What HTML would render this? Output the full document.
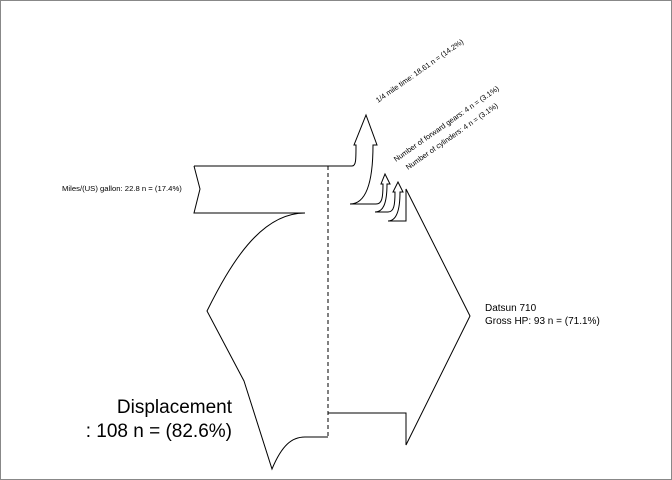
<!DOCTYPE html>
<html><head><meta charset="utf-8"><style>
body{margin:0;background:#fff}
svg{display:block}
text{font-family:"Liberation Sans",sans-serif;fill:#000}
</style></head><body>
<svg width="672" height="480" viewBox="0 0 672 480">
<script>
const nodeNames=["Miles/(US) gallon","Displacement","Gross HP","1/4 mile time","Number of forward gears","Number of cylinders"];
const nodeValues=["22.8","108","93","18.61","4","4"];
const nodePercents=[17.4,82.6,71.1,14.2,3.1,3.1];
</script>
<rect x="0.5" y="0.5" width="671" height="479" fill="#fff" stroke="#888"/>
<g fill="none" stroke="#000" stroke-width="1">
<path d="M194,166 L352,166 C356,166 356,160 356,145 L354,145 L366,115 L377,145 L373,145 C373,185 365,204 350,204"/>
<path d="M194,166 L200,189 L194,213 L305,213"/>
<path d="M305,213 C260,213 230,265 207,311 L244,381 L272,469 C282,445 292,437 305,437 L328,437"/>
<path d="M350,204 L376,204 C382,204 383,198 383,184 L381,184 L385,174 L390,184 L387,184 C387,204 383,212 375,212"/>
<path d="M375,212 L388,212 C394,212 395,205 395,192 L393,192 L398,182 L403,192 L400,192 C400,212 396,221 388,221 L406,221 L406,189 L470,316 L406,445 L406,413 L328,413"/>
<line x1="328" y1="166" x2="328" y2="437" stroke-dasharray="4,3"/>
</g>
<text x="62" y="191" font-size="7.7">Miles/(US) gallon: 22.8 n = (17.4%)</text>
<text x="232" y="413" font-size="19" text-anchor="end">Displacement</text>
<text x="232" y="437" font-size="19" text-anchor="end">: 108 n = (82.6%)</text>
<text x="485" y="311" font-size="10">Datsun 710</text>
<text x="485" y="324" font-size="10">Gross HP: 93 n = (71.1%)</text>
<text transform="translate(378,103) rotate(-35)" font-size="7.4">1/4 mile time: 18.61 n = (14.2%)</text>
<text transform="translate(396,162) rotate(-35)" font-size="7.4">Number of forward gears: 4 n = (3.1%)</text>
<text transform="translate(408,170) rotate(-35)" font-size="7.4">Number of cylinders: 4 n = (3.1%)</text>
</svg>
</body></html>
